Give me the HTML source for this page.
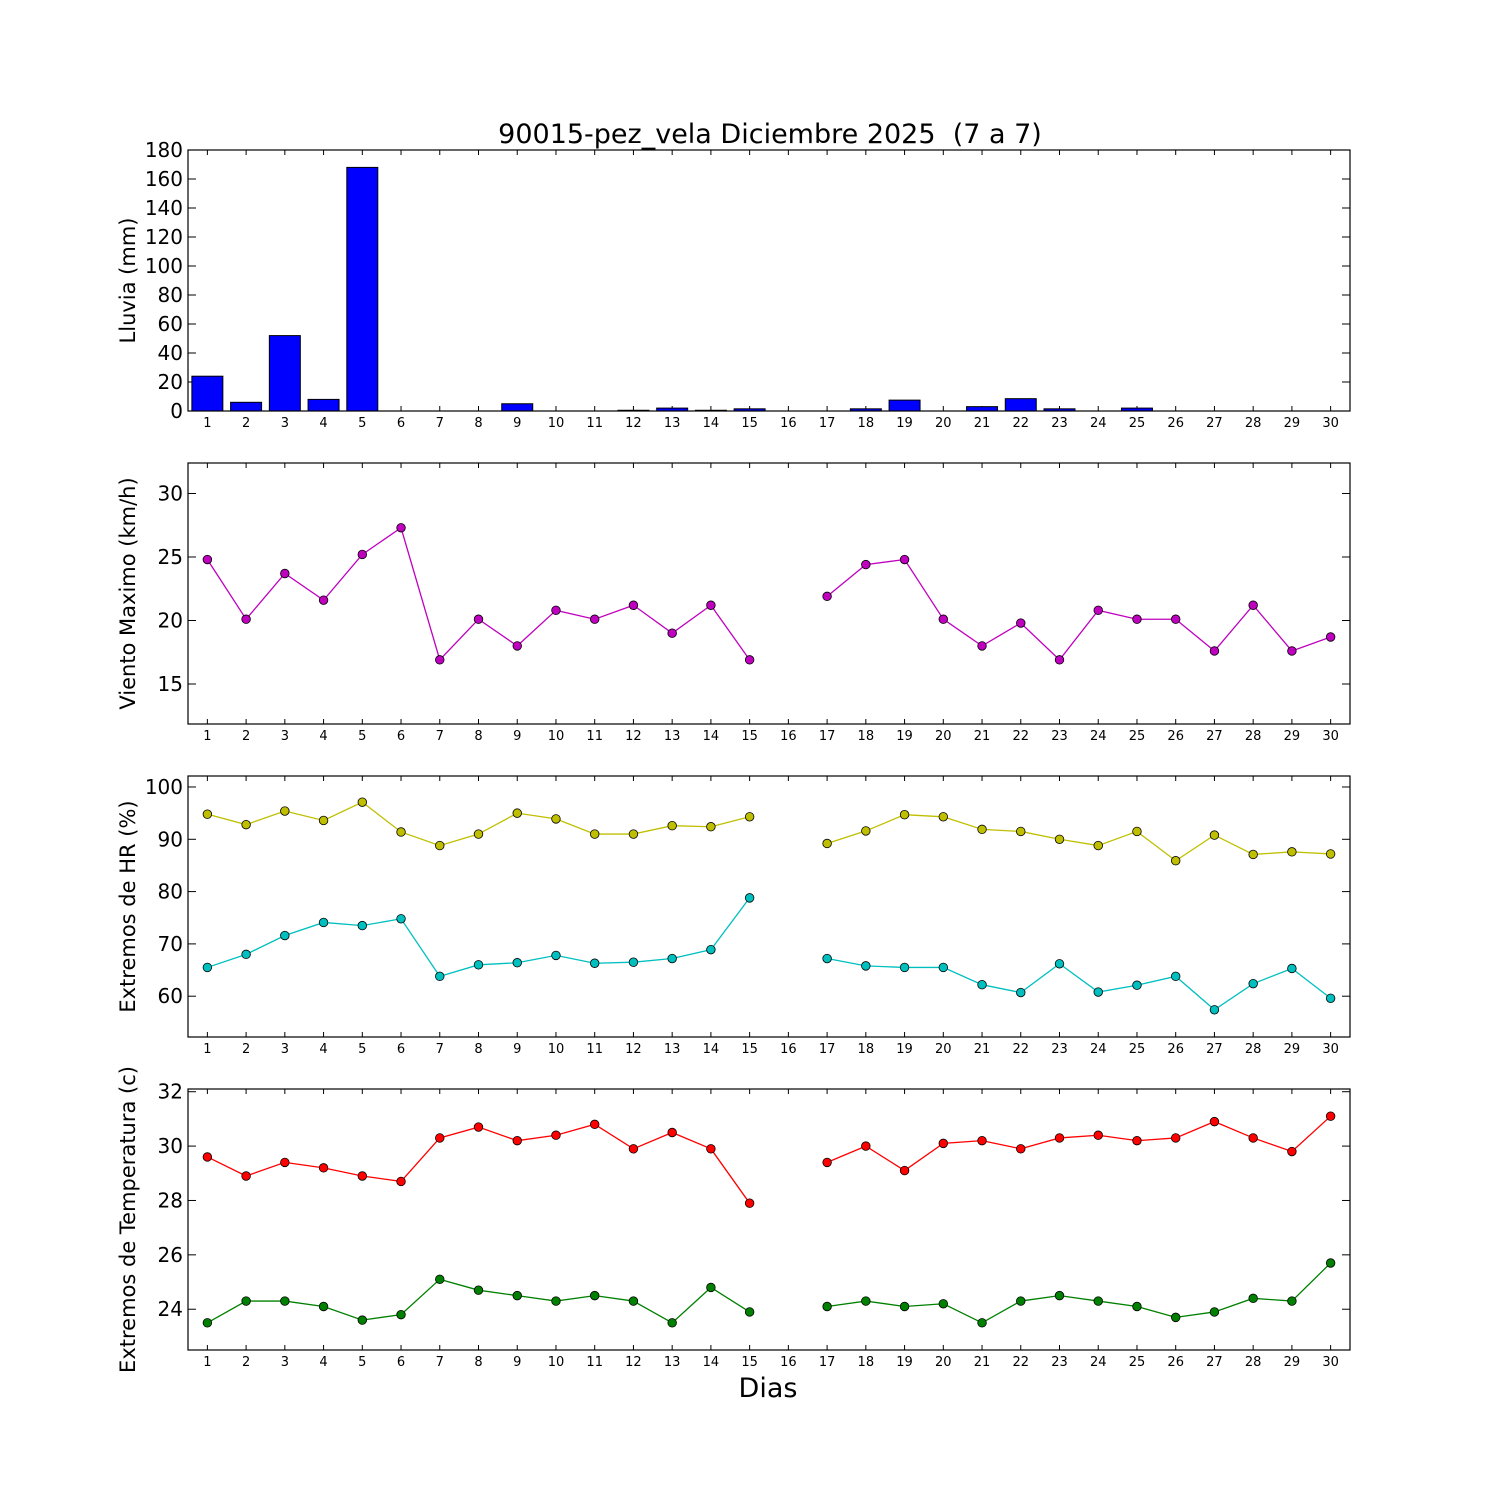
<!DOCTYPE html>
<html><head><meta charset="utf-8"><style>
body{margin:0;background:#fff}
svg{display:block;font-family:"DejaVu Sans","Liberation Sans",sans-serif}
</style></head><body>
<svg id="chart" width="1500" height="1500" xmlns="http://www.w3.org/2000/svg">
<rect width="1500" height="1500" fill="#fff"/>
<text x="770" y="143" font-size="27" text-anchor="middle" style="white-space:pre">90015-pez_vela Diciembre 2025  (7 a 7)</text>
<text x="768" y="1397" font-size="27" text-anchor="middle">Dias</text>
</svg>
<script>
const days = Array.from({length:30},(_,i)=>i+1);
const rain = [24,6,52,8,168,0,0,0,5,0,0,0.5,2,0.5,1.5,0,0,1.5,7.5,0,3,8.5,1.5,0,2,0,0,0,0,0];
const wind = [24.8,20.1,23.7,21.6,25.2,27.3,16.9,20.1,18.0,20.8,20.1,21.2,19.0,21.2,16.9,null,21.9,24.4,24.8,20.1,18.0,19.8,16.9,20.8,20.1,20.1,17.6,21.2,17.6,18.7];
const hrMax = [94.8,92.8,95.4,93.6,97.1,91.4,88.8,91.0,95.0,93.9,91.0,91.0,92.6,92.4,94.3,null,89.2,91.6,94.7,94.3,91.9,91.5,90.0,88.8,91.5,85.9,90.8,87.1,87.6,87.2];
const hrMin = [65.5,68.0,71.6,74.1,73.5,74.8,63.8,66.0,66.4,67.8,66.3,66.5,67.2,68.9,78.8,null,67.2,65.8,65.5,65.5,62.2,60.7,66.2,60.8,62.1,63.8,57.4,62.4,65.3,59.6];
const tMax = [29.6,28.9,29.4,29.2,28.9,28.7,30.3,30.7,30.2,30.4,30.8,29.9,30.5,29.9,27.9,null,29.4,30.0,29.1,30.1,30.2,29.9,30.3,30.4,30.2,30.3,30.9,30.3,29.8,31.1];
const tMin = [23.5,24.3,24.3,24.1,23.6,23.8,25.1,24.7,24.5,24.3,24.5,24.3,23.5,24.8,23.9,null,24.1,24.3,24.1,24.2,23.5,24.3,24.5,24.3,24.1,23.7,23.9,24.4,24.3,25.7];
const rainTicks=[0,20,40,60,80,100,120,140,160,180];
const windTicks=[15,20,25,30];
const hrTicks=[60,70,80,90,100];
const tTicks=[24,26,28,30,32];

const svg=document.getElementById('chart');
const NS='http://www.w3.org/2000/svg';
function el(tag,attrs,parent){const e=document.createElementNS(NS,tag);for(const k in attrs)e.setAttribute(k,attrs[k]);(parent||svg).appendChild(e);return e;}
const L=188,R=1350;
const xs=d=>L+(d-0.5)*(R-L)/30;

function panel(name,top,bot,ymin,ymax,ticks,label){
  const g=el('g',{});
  
  
  const ys=v=>bot-(v-ymin)/(ymax-ymin)*(bot-top);
  days.forEach(d=>{
    const x=xs(d);
    el('line',{x1:x,x2:x,y1:bot,y2:bot-5,stroke:'#000'},g);
    el('line',{x1:x,x2:x,y1:top,y2:top+5,stroke:'#000'},g);
    const t=el('text',{x:x,y:bot+16,'font-size':13,'text-anchor':'middle'},g);
    t.textContent=d;
    
    
  });
  ticks.forEach(v=>{
    const y=ys(v);
    el('line',{x1:L,x2:L+8,y1:y,y2:y,stroke:'#000'},g);
    el('line',{x1:R,x2:R-8,y1:y,y2:y,stroke:'#000'},g);
    const t=el('text',{x:L-5,y:y+7,'font-size':20,'text-anchor':'end'},g);
    t.textContent=v;
    
    
  });
  const cy=(top+bot)/2;
  const yl=el('text',{x:0,y:0,'font-size':21,'text-anchor':'middle',transform:`translate(${L-53},${cy}) rotate(-90)`},g);
  yl.textContent=label;
  
  
  return {g,ys,top,bot};
}
function frame(p){el('rect',{x:L,y:p.top,width:R-L,height:p.bot-p.top,fill:'none',stroke:'#000','stroke-width':1.2},p.g);}
function series(p,vals,color,name){
  let segs=[],cur=[];
  vals.forEach((v,i)=>{if(v==null){if(cur.length)segs.push(cur);cur=[];}else cur.push([xs(days[i]),p.ys(v)]);});
  if(cur.length)segs.push(cur);
  segs.forEach(s=>{const pl=el('polyline',{points:s.map(q=>q.join(',')).join(' '),fill:'none',stroke:color,'stroke-width':1.3},p.g);
    
    });
  vals.forEach((v,i)=>{if(v==null)return;
    const c=el('circle',{cx:xs(days[i]),cy:p.ys(v),r:4.3,fill:color,stroke:'#000','stroke-width':0.8},p.g);
    
    });
}

const p1=panel('rain',150,411,0,180,rainTicks,'Lluvia (mm)');
rain.forEach((v,i)=>{
  const w=(R-L)/30*0.8;
  const y=p1.ys(v);
  const b=el('rect',{x:xs(days[i])-w/2,y:y,width:w,height:p1.bot-y,fill:'#0000ff',stroke:'#000','stroke-width':1},p1.g);
  
  
});
frame(p1);

const p2=panel('wind',463,724,11.85,32.4,windTicks,'Viento Maximo (km/h)');
series(p2,wind,'#bf00bf','wind');frame(p2);

const p3=panel('humidity',776,1037,52.2,102.1,hrTicks,'Extremos de HR (%)');
series(p3,hrMax,'#bfbf00','hr-max');series(p3,hrMin,'#00bfbf','hr-min');frame(p3);

const p4=panel('temperature',1089,1350,22.5,32.1,tTicks,'Extremos de Temperatura (c)');
series(p4,tMax,'#ff0000','temp-max');series(p4,tMin,'#008000','temp-min');frame(p4);
</script>
</body></html>
